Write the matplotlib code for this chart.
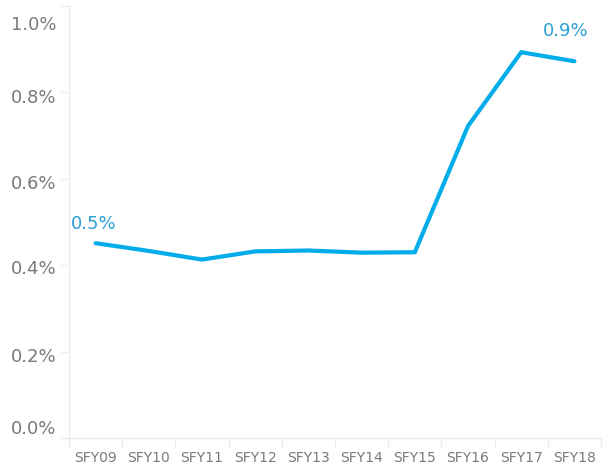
import matplotlib.pyplot as plt
import matplotlib.transforms as mtransforms
import numpy as np

# Data
years = ['SFY09', 'SFY10', 'SFY11', 'SFY12', 'SFY13',
         'SFY14', 'SFY15', 'SFY16', 'SFY17', 'SFY18']
rate = [0.451, 0.433, 0.413, 0.432, 0.434, 0.429, 0.430, 0.722, 0.893, 0.872]
y_ticks = [0.0, 0.2, 0.4, 0.6, 0.8, 1.0]

line_color = '#00ace9'
label_color = '#2b9fd6'
grey = '#7a7a7a'
axis_grey = '#ececec'

plt.rcParams['font.family'] = ['DejaVu Sans']

fig = plt.figure(figsize=(6.11, 4.67), dpi=100)
ax = fig.add_axes([69 / 611, 29 / 467, 532 / 611, 432 / 467])

x = np.arange(len(years))
ax.plot(x, rate, color=line_color, linewidth=3.0, solid_capstyle='round',
        solid_joinstyle='miter')

ax.set_xlim(-0.5, len(years) - 0.5)
ax.set_ylim(0, 1.0)

# category labels at band centres, divider ticks at band edges
ax.set_xticks(x)
ax.set_xticklabels(years, fontsize=10, color=grey)
ax.tick_params(axis='x', which='major', length=0, pad=9)
ax.set_xticks(np.arange(-0.5, len(years)), minor=True)
ax.tick_params(axis='x', which='minor', length=7, color=axis_grey, width=1)

ax.set_yticks(y_ticks)
ax.set_yticklabels(['%.1f%%' % v for v in y_ticks], fontsize=13, color=grey)
ax.tick_params(axis='y', length=6, color=axis_grey, width=1, pad=3)
# Tableau-style label placement: bottom label pushed up, top one down
shift_px = [11, -3, -2, -3, -4, -17]
for lab, d in zip(ax.get_yticklabels(), shift_px):
    lab.set_transform(lab.get_transform() +
                      mtransforms.ScaledTranslation(0, d / 100, fig.dpi_scale_trans))

for side in ['top', 'right']:
    ax.spines[side].set_visible(False)
for side in ['left', 'bottom']:
    ax.spines[side].set_color(axis_grey)
    ax.spines[side].set_linewidth(1)

# first / last value labels
ax.annotate('%.1f%%' % rate[0], (x[0], rate[0]), xytext=(-1.5, 10),
            textcoords='offset points', ha='center', va='baseline',
            fontsize=13, color=label_color)
ax.annotate('%.1f%%' % rate[-1], (x[-1], rate[-1]), xytext=(-6.5, 18),
            textcoords='offset points', ha='center', va='baseline',
            fontsize=13, color=label_color)

fig.savefig('out.png', dpi=100)
